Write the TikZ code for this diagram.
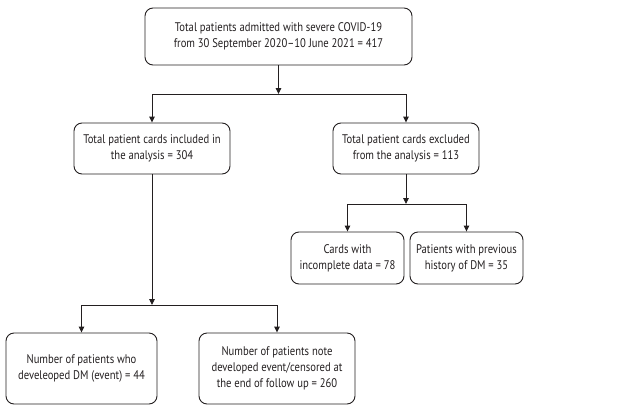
\documentclass[tikz,border=0pt]{standalone}
\usepackage{fontspec}
\setmainfont{PT Sans}[FakeStretch=0.85]
\usetikzlibrary{arrows.meta}
\definecolor{linec}{HTML}{231F20}
\begin{document}
\begin{tikzpicture}[x=1pt,y=-1pt,
 box/.style={draw=linec, line width=0.9pt, rounded corners=8pt, align=center,
   font=\fontsize{12.5}{16}\selectfont, text=linec, inner sep=0pt},
 arr/.style={draw=linec, line width=0.9pt, -{Triangle[length=6pt,width=5.5pt]}},
 ln/.style={draw=linec, line width=0.9pt}]
\useasboundingbox (0,0) rectangle (627,405);
\node[box, minimum width=267pt, minimum height=57pt] (top) at (278.5,36.5)
  {Total patients admitted with severe COVID-19\\from 30 September 2020--10 June 2021 = 417};
\node[box, minimum width=156pt, minimum height=51pt] (inc) at (152,148.5)
  {Total patient cards included in\\the analysis = 304};
\node[box, minimum width=146pt, minimum height=51pt] (exc) at (406,148.5)
  {Total patient cards excluded\\from the analysis = 113};
\node[box, minimum width=113pt, minimum height=52pt] (cards) at (347.5,258)
  {Cards with\\incomplete data = 78};
\node[box, minimum width=113pt, minimum height=52pt] (prev) at (466.5,258)
  {Patients with previous\\history of DM = 35};
\node[box, minimum width=151pt, minimum height=71pt] (dev) at (81.5,368.5)
  {Number of patients who\\develeoped DM (event) = 44};
\node[box, minimum width=156pt, minimum height=71pt] (cens) at (277,368.5)
  {Number of patients note\\developed event/censored at\\the end of follow up = 260};
% top split
\coordinate (j1) at (278.5,94);
\coordinate (j1l) at (152,94);
\coordinate (j1r) at (406,94);
\draw[arr] (top.south) -- (j1);
\draw[ln] (j1l) -- (j1r);
\draw[arr] (j1l) -- (inc.north);
\draw[arr] (j1r) -- (exc.north);
% excluded split
\coordinate (j2) at (406,204);
\coordinate (j2l) at (347.5,204);
\coordinate (j2r) at (466.5,204);
\draw[arr] (exc.south) -- (j2);
\draw[ln] (j2l) -- (j2r);
\draw[arr] (j2l) -- (cards.north);
\draw[arr] (j2r) -- (prev.north);
% included split
\coordinate (j3) at (152,305);
\coordinate (j3l) at (81.5,305);
\coordinate (j3r) at (277,305);
\draw[arr] (inc.south) -- (j3);
\draw[ln] (j3l) -- (j3r);
\draw[arr] (j3l) -- (dev.north);
\draw[arr] (j3r) -- (cens.north);
\end{tikzpicture}
\end{document}
